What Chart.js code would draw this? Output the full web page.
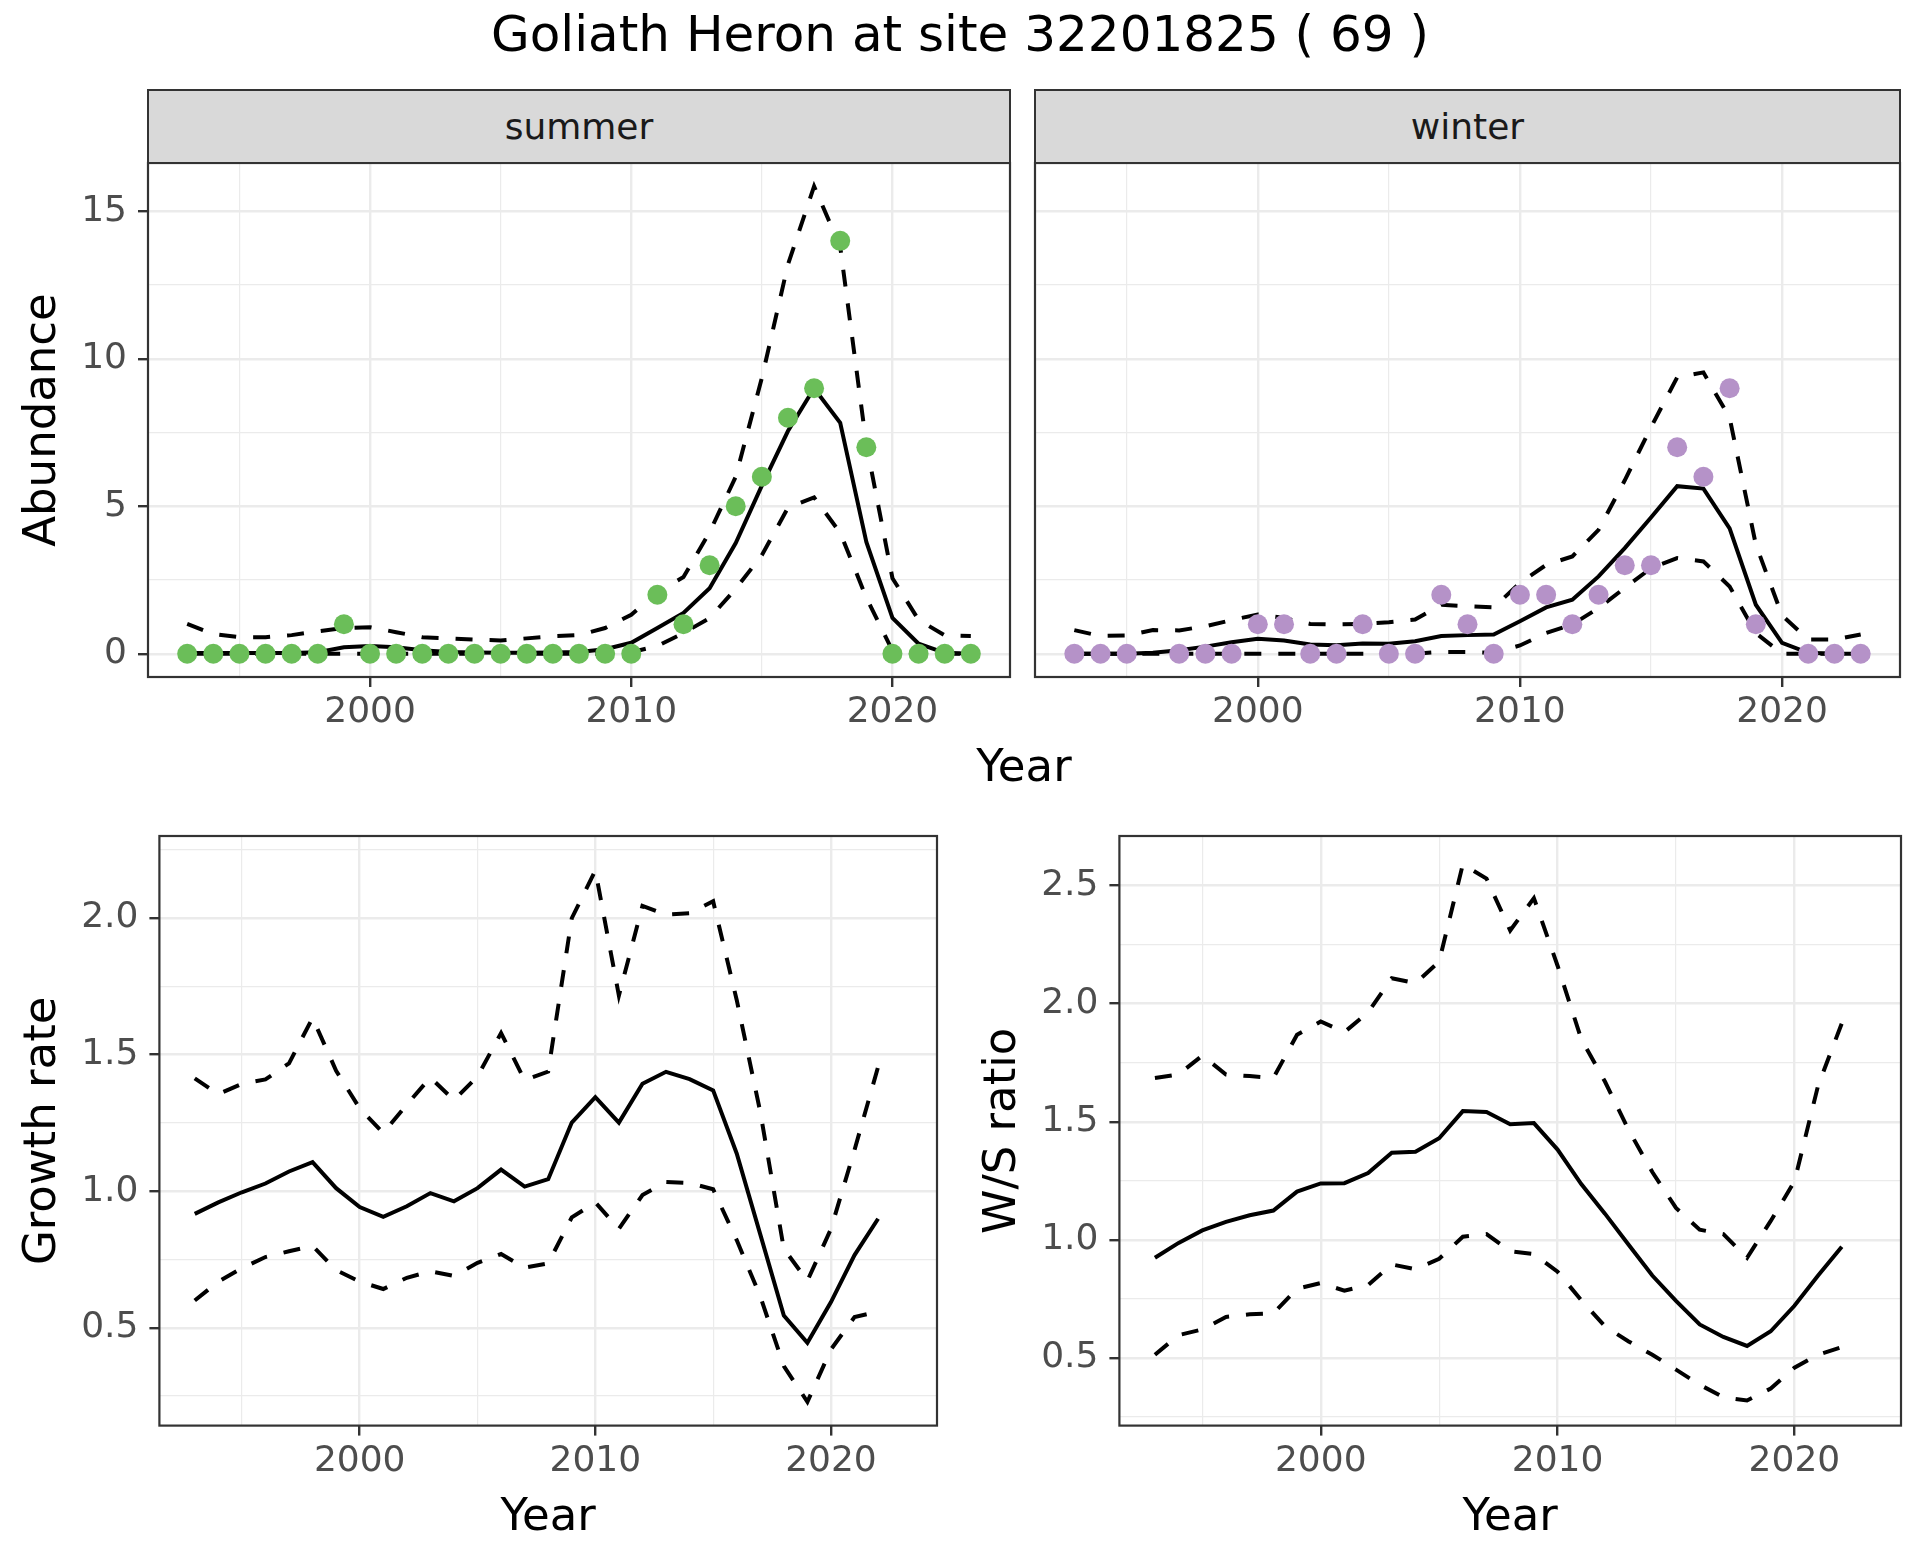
<!DOCTYPE html>
<html>
<head>
<meta charset="utf-8">
<title>Goliath Heron at site 32201825</title>
<script src="https://cdn.jsdelivr.net/npm/chart.js@4.4.1/dist/chart.umd.min.js"></script>
<style>
  html, body { margin: 0; padding: 0; background: #fff; }
  body { width: 1920px; height: 1560px; position: relative; overflow: hidden; font-family: 'DejaVu Sans', sans-serif; }
  .box { position: absolute; }
  .main-title { left: 0; top: 4px; width: 1920px; text-align: center; font-size: 50px; line-height: 60px; color: #000; }
  .strip { background: #D9D9D9; border: 2px solid #333; box-sizing: border-box; display: flex; align-items: center; justify-content: center; font-size: 36px; color: #1A1A1A; }
  .x-title { font-size: 45px; line-height: 54px; color: #000; text-align: center; }
</style>
</head>
<body>
<div class="box main-title">Goliath Heron at site 32201825 ( 69 )</div>

<div class="box" style="left:0;top:123px;width:1031px;height:630px"><canvas id="summerChart"></canvas></div>
<div class="box" style="left:1025px;top:123px;width:895px;height:630px"><canvas id="winterChart"></canvas></div>
<div class="box" style="left:0;top:796px;width:960px;height:764px"><canvas id="growthChart"></canvas></div>
<div class="box" style="left:960px;top:796px;width:960px;height:764px"><canvas id="ratioChart"></canvas></div>

<div class="box strip" style="left:147px;top:89px;width:864px;height:75px">summer</div>
<div class="box strip" style="left:1034px;top:89px;width:867px;height:75px">winter</div>
<div class="box x-title" style="left:824px;top:739px;width:400px">Year</div>

<script>
// 연도 (1993 - 2023)
const years = [1993, 1994, 1995, 1996, 1997, 1998, 1999, 2000, 2001, 2002, 2003, 2004, 2005, 2006, 2007, 2008,
  2009, 2010, 2011, 2012, 2013, 2014, 2015, 2016, 2017, 2018, 2019, 2020, 2021, 2022, 2023];

// summer 관측치와 추정선
const summerCount = [0, 0, 0, 0, 0, 0, 1, 0, 0, 0, 0, 0, 0, 0, 0, 0, 0, 0, 2, 1, 3, 5, 6, 8, 9, 14, 7, 0, 0, 0, 0];
const summerMean = [0.02, 0.02, 0.02, 0.02, 0.02, 0.05, 0.22, 0.26, 0.22, 0.12, 0.06, 0.04, 0.03, 0.03, 0.04, 0.06,
  0.15, 0.37, 0.87, 1.38, 2.22, 3.75, 5.7, 7.55, 9.0, 7.83, 3.79, 1.21, 0.34, 0.03, 0.0];
const summerUpper = [1.01, 0.67, 0.56, 0.56, 0.63, 0.76, 0.87, 0.9, 0.73, 0.56, 0.52, 0.48, 0.45, 0.52, 0.59, 0.63,
  0.87, 1.32, 2.09, 2.6, 4.12, 6.0, 9.35, 13.2, 15.85, 13.8, 7.1, 2.56, 1.15, 0.62, 0.6];
const summerLower = [0, 0, 0, 0, 0, 0, 0, 0, 0, 0, 0, 0, 0, 0, 0, 0, 0, 0.05, 0.26, 0.7, 1.21, 2.2, 3.34, 4.95, 5.3,
  4.1, 1.9, 0.1, 0, 0, 0];

// winter 관측치와 추정선 (1996, 2020 결측)
const winterCount = [0, 0, 0, null, 0, 0, 0, 1, 1, 0, 0, 1, 0, 0, 2, 1, 0, 2, 2, 1, 2, 3, 3, 7, 6, 9, 1, null, 0, 0, 0];
const winterMean = [0, 0, 0, 0.03, 0.12, 0.24, 0.39, 0.51, 0.45, 0.31, 0.29, 0.35, 0.34, 0.42, 0.6, 0.63, 0.65,
  1.1, 1.57, 1.83, 2.62, 3.58, 4.62, 5.68, 5.6, 4.25, 1.66, 0.37, 0.03, 0, 0];
const winterUpper = [0.8, 0.6, 0.62, 0.8, 0.79, 0.93, 1.14, 1.33, 1.21, 1.01, 0.99, 1.01, 1.07, 1.16, 1.66, 1.61,
  1.57, 2.4, 3.01, 3.3, 4.2, 5.88, 7.68, 9.37, 9.54, 8.0, 3.7, 1.3, 0.48, 0.48, 0.65];
const winterLower = [0, 0, 0, 0, 0, 0, 0, 0, 0, 0, 0, 0, 0, 0, 0.06, 0.06, 0.03, 0.28, 0.7, 0.99, 1.55, 2.23, 2.9,
  3.24, 3.13, 2.28, 0.7, 0, 0, 0, 0];

// 성장률 / W/S 비율 (1993 - 2022)
const rateYears = years.slice(0, 30);
const growthMean = [0.917, 0.959, 0.996, 1.028, 1.072, 1.106, 1.011, 0.942, 0.906, 0.945, 0.993, 0.963, 1.011,
  1.079, 1.017, 1.044, 1.251, 1.344, 1.251, 1.393, 1.437, 1.41, 1.369, 1.138, 0.842, 0.545, 0.445, 0.594, 0.766, 0.899];
const growthUpper = [1.413, 1.355, 1.393, 1.409, 1.468, 1.634, 1.441, 1.303, 1.213, 1.317, 1.416, 1.333, 1.42,
  1.579, 1.406, 1.438, 1.999, 2.174, 1.716, 2.044, 2.012, 2.017, 2.061, 1.7, 1.29, 0.789, 0.672, 0.862, 1.151, 1.455];
const growthLower = [0.6, 0.669, 0.718, 0.759, 0.78, 0.8, 0.711, 0.669, 0.642, 0.683, 0.707, 0.69, 0.738, 0.77,
  0.72, 0.736, 0.904, 0.959, 0.862, 0.986, 1.034, 1.03, 1.007, 0.821, 0.615, 0.36, 0.229, 0.421, 0.539, 0.56];

const ratioMean = [0.924, 0.987, 1.04, 1.076, 1.104, 1.124, 1.204, 1.239, 1.24, 1.283, 1.369, 1.373, 1.43, 1.545,
  1.541, 1.489, 1.494, 1.382, 1.236, 1.111, 0.979, 0.849, 0.742, 0.642, 0.589, 0.551, 0.613, 0.721, 0.849, 0.971];
const ratioUpper = [1.685, 1.7, 1.78, 1.7, 1.693, 1.685, 1.868, 1.924, 1.879, 1.963, 2.107, 2.086, 2.178, 2.589,
  2.529, 2.309, 2.446, 2.16, 1.85, 1.67, 1.465, 1.287, 1.135, 1.043, 1.024, 0.924, 1.08, 1.247, 1.653, 1.916];
const ratioLower = [0.514, 0.597, 0.621, 0.674, 0.685, 0.689, 0.793, 0.817, 0.785, 0.809, 0.896, 0.876, 0.92,
  1.013, 1.024, 0.952, 0.94, 0.865, 0.745, 0.634, 0.57, 0.514, 0.451, 0.387, 0.334, 0.32, 0.371, 0.459, 0.514, 0.546];

// 눈금
const xTicks = [1995, 2000, 2005, 2010, 2015, 2020];
const xMajor = [2000, 2010, 2020];
const abundTicks = [0, 2.5, 5, 7.5, 10, 12.5, 15];
const abundMajor = [0, 5, 10, 15];
const growthTicks = [0.25, 0.5, 0.75, 1.0, 1.25, 1.5, 1.75, 2.0, 2.25];
const growthMajor = [0.5, 1.0, 1.5, 2.0];
const ratioTicks = [0.25, 0.5, 0.75, 1.0, 1.25, 1.5, 1.75, 2.0, 2.25, 2.5];
const ratioMajor = [0.5, 1.0, 1.5, 2.0, 2.5];

const FONT = "'DejaVu Sans', sans-serif";
const GRID = '#EBEBEB';
const DARK = '#333333';
Chart.defaults.font.family = FONT;

function isIn(list, v) {
  return list.some((m) => Math.abs(m - v) < 1e-6);
}

function toPoints(xs, ys) {
  return xs.map((x, i) => ({ x, y: ys[i] }));
}

// 패널 테두리
const panelBorder = {
  id: 'panelBorder',
  afterDatasetsDraw(chart) {
    const { ctx, chartArea: a } = chart;
    ctx.save();
    ctx.strokeStyle = DARK;
    ctx.lineWidth = 2.2;
    ctx.strokeRect(a.left, a.top, a.right - a.left, a.bottom - a.top);
    ctx.restore();
  },
};

function xAxis(height, title) {
  return {
    type: 'linear',
    min: 1991.5,
    max: 2024.5,
    afterBuildTicks: (axis) => {
      axis.ticks = xTicks.map((v) => ({ value: v }));
    },
    afterFit: (axis) => {
      axis.height = height;
    },
    border: { display: false },
    grid: {
      color: GRID,
      lineWidth: (c) => (c.tick && isIn(xMajor, c.tick.value) ? 2.4 : 1.2),
      tickColor: (c) => (c.tick && isIn(xMajor, c.tick.value) ? DARK : 'rgba(0,0,0,0)'),
      tickLength: 10,
      tickWidth: 2.4,
    },
    ticks: {
      autoSkip: false,
      maxRotation: 0,
      padding: 4,
      color: '#4D4D4D',
      font: { size: 36 },
      callback: (v) => (isIn(xMajor, v) ? String(v) : ''),
    },
    title: title
      ? { display: true, text: title, color: '#000', font: { size: 45 }, padding: { top: 0, bottom: 15 } }
      : { display: false },
  };
}

function yAxis(min, max, ticks, majors, width, title, fmt) {
  return {
    type: 'linear',
    min,
    max,
    afterBuildTicks: (axis) => {
      axis.ticks = ticks.map((v) => ({ value: v }));
    },
    afterFit: (axis) => {
      axis.width = width;
    },
    border: { display: false },
    grid: {
      color: GRID,
      lineWidth: (c) => (c.tick && isIn(majors, c.tick.value) ? 2.4 : 1.2),
      tickColor: (c) => (c.tick && isIn(majors, c.tick.value) ? DARK : 'rgba(0,0,0,0)'),
      drawTicks: !!fmt,
      tickLength: 10,
      tickWidth: 2.4,
    },
    ticks: {
      display: !!fmt,
      autoSkip: false,
      padding: 11,
      color: '#4D4D4D',
      font: { size: 36 },
      callback: (v) => (fmt && isIn(majors, v) ? fmt(v) : ''),
    },
    title: title
      ? { display: true, text: title, color: '#000', font: { size: 45 }, padding: { top: 16, bottom: 0 } }
      : { display: false },
  };
}

function lineSet(xs, ys, dashed) {
  return {
    data: toPoints(xs, ys),
    showLine: true,
    borderColor: '#000',
    backgroundColor: '#000',
    borderWidth: 4,
    borderDash: dashed ? [17, 17] : [],
    pointRadius: 0,
    pointHoverRadius: 0,
    tension: 0,
    spanGaps: false,
  };
}

function pointSet(xs, ys, color) {
  return {
    data: toPoints(xs, ys),
    showLine: false,
    pointRadius: 10,
    pointHoverRadius: 10,
    pointBorderWidth: 0,
    pointBackgroundColor: color,
    borderColor: color,
    backgroundColor: color,
  };
}

function makeChart(id, datasets, scales, padding) {
  const ctx = document.getElementById(id).getContext('2d');
  return new Chart(ctx, {
    type: 'scatter',
    data: { datasets },
    options: {
      responsive: true,
      maintainAspectRatio: false,
      animation: false,
      layout: { padding },
      plugins: {
        legend: { display: false },
        tooltip: { enabled: false },
      },
      scales,
    },
    plugins: [panelBorder],
  });
}

// 상단: summer / winter 개체수
makeChart('summerChart', [
  pointSet(years, summerCount, '#6BBE59'),
  lineSet(years, summerMean, false),
  lineSet(years, summerUpper, true),
  lineSet(years, summerLower, true),
], {
  x: xAxis(76, null),
  y: yAxis(-0.79, 16.64, abundTicks, abundMajor, 148, 'Abundance', (v) => String(v)),
}, { top: 40, right: 21, left: 0, bottom: 0 });

makeChart('winterChart', [
  pointSet(years, winterCount, '#B592C8'),
  lineSet(years, winterMean, false),
  lineSet(years, winterUpper, true),
  lineSet(years, winterLower, true),
], {
  x: xAxis(76, null),
  y: yAxis(-0.79, 16.64, abundTicks, abundMajor, 10, null, null),
}, { top: 40, right: 20, left: 0, bottom: 0 });

// 하단: 성장률 / W/S 비율
makeChart('growthChart', [
  lineSet(rateYears, growthMean, false),
  lineSet(rateYears, growthUpper, true),
  lineSet(rateYears, growthLower, true),
], {
  x: xAxis(134.4, 'Year'),
  y: yAxis(0.142, 2.3, growthTicks, growthMajor, 159.4, 'Growth rate', (v) => v.toFixed(1)),
}, { top: 40, right: 23, left: 0, bottom: 0 });

makeChart('ratioChart', [
  lineSet(rateYears, ratioMean, false),
  lineSet(rateYears, ratioUpper, true),
  lineSet(rateYears, ratioLower, true),
], {
  x: xAxis(134.4, 'Year'),
  y: yAxis(0.214, 2.709, ratioTicks, ratioMajor, 159.4, 'W/S ratio', (v) => v.toFixed(1)),
}, { top: 40, right: 19, left: 0, bottom: 0 });
</script>
</body>
</html>
